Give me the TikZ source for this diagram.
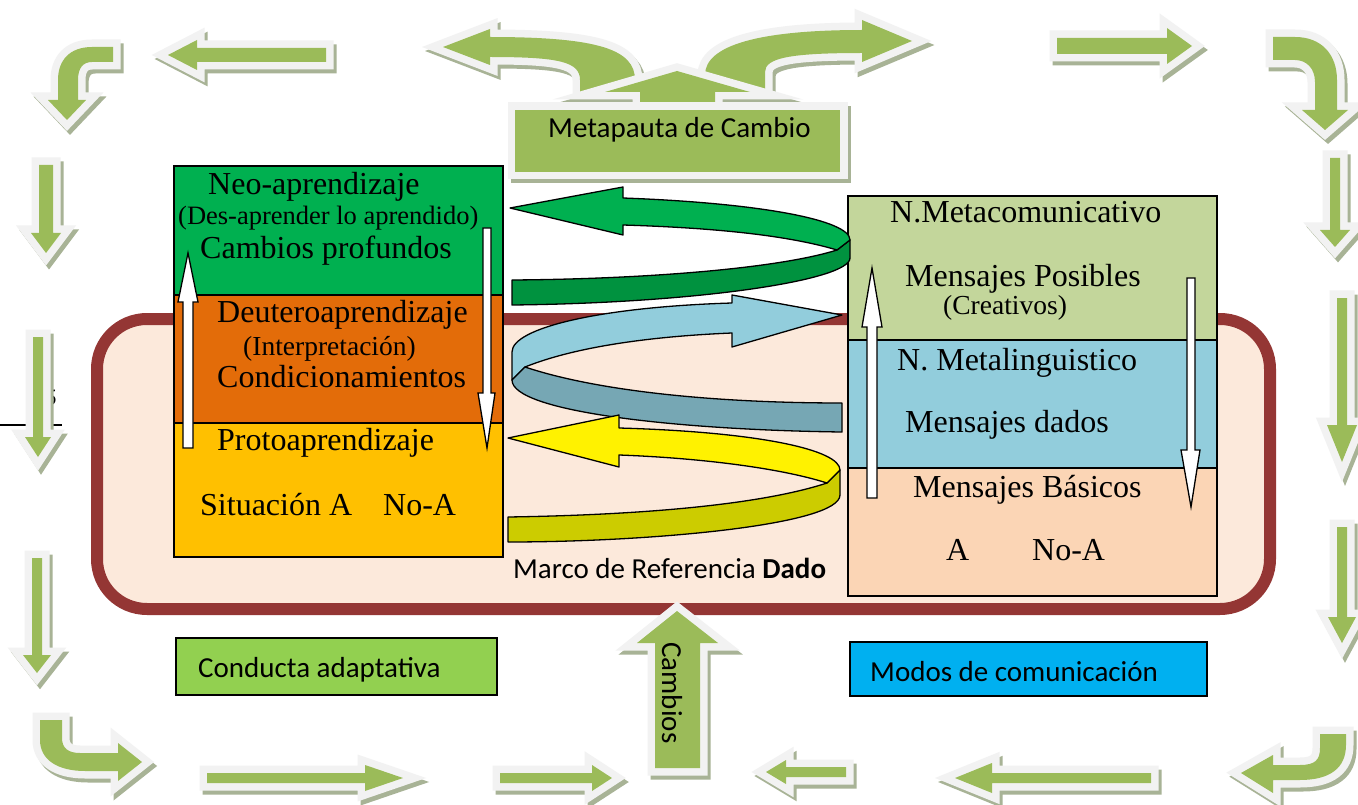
\documentclass[tikz,border=0pt]{standalone}
\usepackage{fontspec}
\setmainfont{Liberation Serif}
\newfontfamily\calibri{Carlito}
\definecolor{agreen}{HTML}{9BBB59}
\definecolor{awhite}{HTML}{F2F2F2}
\definecolor{ashadow}{HTML}{A8B396}
\definecolor{frameline}{HTML}{943634}
\definecolor{framefill}{HTML}{FCE9DB}
\definecolor{neogreen}{HTML}{00B050}
\definecolor{deutero}{HTML}{E36C09}
\definecolor{proto}{HTML}{FFC000}
\definecolor{metacom}{HTML}{C3D69B}
\definecolor{metaling}{HTML}{92CDDC}
\definecolor{basicos}{HTML}{FBD5B5}
\definecolor{gdark}{HTML}{00923F}
\definecolor{bdark}{HTML}{76A7B4}
\definecolor{ydark}{HTML}{CCCC00}
\definecolor{conducta}{HTML}{92D050}
\definecolor{modos}{HTML}{00B0F0}
\tikzset{
        barrow/.style={fill=agreen,
            preaction={fill=ashadow, draw=ashadow, line width=15pt, line join=miter, transform canvas={shift={(3pt,-4pt)}}},
            preaction={fill=awhite, draw=awhite, line width=15pt, line join=miter}},
        layer/.style={draw=black, line width=1.5pt},
        warrow/.style={fill=white, draw=black, line width=1.3pt},
        ribbon/.style={draw=black, line width=1.3pt, line join=round},
        rtext/.style={inner sep=0pt, anchor=base west, font=\fontsize{32}{36}\selectfont},
        rsmall/.style={rtext, font=\fontsize{27.5}{30}\selectfont},
        stext/.style={inner sep=0pt, anchor=base west, font={\calibri\fontsize{29}{34}\selectfont}},
}
\begin{document}
\begin{tikzpicture}[x=1pt, y=-1pt]
        \fill[white] (0,0) rectangle (1358,805);
        \useasboundingbox (0,0) rectangle (1358,805);

        \node[font={\calibri\fontsize{24}{28}\selectfont}, inner sep=0pt] (pagenum) at (51,398) {5};
        \draw[line width=1.3pt] (0,425) -- (62,425);

        \draw[draw=frameline, fill=framefill, line width=12pt, rounded corners=50pt] (97,319) rectangle (1270,609);

        \foreach \x/\t/\b/\p/\s/\h in {46/165/233/253/7/15, 38/337/437/457/5/13, 37/558/655/673/5/14, 1335/158/230/247/5/15, 1342/298/425/462/5/15, 1342/527/617/643/5/14}{
            \fill[barrow] (\x-\s,\t) -- (\x+\s,\t) -- (\x+\s,\b) -- (\x+\h,\b) -- (\x,\p) -- (\x-\h,\b) -- (\x-\s,\b) -- cycle;
        }
        \foreach \a/\b/\c/\y/\s/\h in {326/197/168/55/7/15, 1057/1167/1192/46/8/18, 207/365/403/778/5/13, 500/592/612/778/5/13, 846/786/766/772/5/12, 1151/992/955/778/5/15}{
            \fill[barrow] (\a,\y-\s) -- (\b,\y-\s) -- (\b,\y-\h) -- (\c,\y) -- (\b,\y+\h) -- (\b,\y+\s) -- (\a,\y+\s) -- cycle;
        }

        \fill[barrow] (113,47) -- (92,47) .. controls (70,47) and (58,60) .. (58,80) -- (58,100) -- (48,100) -- (67,120) -- (86,100) -- (78,100) -- (78,80) .. controls (78,68) and (83,62) .. (92,62) -- (113,62) -- cycle;
        \fill[barrow] (1273,37) -- (1295,37) .. controls (1322,37) and (1337,55) .. (1337,80) -- (1337,110) -- (1348,110) -- (1325,130) -- (1302,110) -- (1315,110) -- (1315,82) .. controls (1315,68) and (1306,60) .. (1295,60) -- (1273,60) -- cycle;
        \fill[barrow] (40,720) -- (62,720) -- (62,738) .. controls (62,748) and (68,753) .. (80,753) -- (118,753) -- (118,743) -- (142,762) -- (118,781) -- (118,771) -- (85,771) .. controls (58,771) and (40,760) .. (40,740) -- cycle;
        \fill[barrow] (1346,734) -- (1346,745) .. controls (1346,768) and (1330,780) .. (1300,780) -- (1273,780) -- (1273,793) -- (1241,773) -- (1273,755) -- (1273,765) -- (1300,765) .. controls (1315,765) and (1320,760) .. (1320,748) -- (1320,734) -- cycle;
        \fill[barrow] (655,768) -- (700,768) -- (700,643) -- (718,643) -- (677,611) -- (637,643) -- (655,643) -- cycle;
        \node[stext, anchor=center, rotate=-90] (cambios) at (672,693) {Cambios};

        \fill[barrow] (443,47) -- (490,29) -- (490,37) .. controls (600,37) and (635,50) .. (635,80) -- (635,98) -- (580,98) -- (580,80) .. controls (580,62) and (560,57) .. (490,57) -- (490,65) -- cycle;
        \fill[barrow] (705,98) -- (705,75) .. controls (705,45) and (760,30) .. (862,30) -- (862,20) -- (912,41) -- (862,62) -- (862,53) .. controls (790,53) and (765,58) .. (765,72) -- (765,98) -- cycle;
        \fill[barrow] (605,92) -- (677,71) -- (750,92) -- (715,92) -- (715,112) -- (640,112) -- (640,92) -- cycle;
        \fill[barrow] (515,110) rectangle (840,172);
        \node[stext] (metapauta) at (548,138) {Metapauta de Cambio};

        \draw[layer, fill=neogreen] (174,166) rectangle (503,295);
        \draw[layer, fill=deutero] (174,295) rectangle (503,423);
        \draw[layer, fill=proto] (174,423) rectangle (503,557);
        \draw[layer, fill=metacom] (848,196) rectangle (1217,340);
        \draw[layer, fill=metaling] (848,340) rectangle (1217,468);
        \draw[layer, fill=basicos] (848,468) rectangle (1217,596);

        \node[rtext] (neo) at (208,195) {Neo-aprendizaje};
        \node[rtext, font=\fontsize{26.5}{30}\selectfont] (desaprender) at (178,225) {(Des-aprender lo aprendido)};
        \node[rtext] (profundos) at (200,259) {Cambios profundos};
        \node[rtext] (deutero) at (217,323) {Deuteroaprendizaje};
        \node[rsmall] (interpret) at (243,355) {(Interpretación)};
        \node[rtext] (condic) at (217,387) {Condicionamientos};
        \node[rtext] (proto) at (217,450) {Protoaprendizaje};
        \node[rtext] (situacion) at (200,515) {Situación A};
        \node[rtext] (noasit) at (383,515) {No-A};
        \node[rtext] (metacom) at (890,223) {N.Metacomunicativo};
        \node[rtext] (posibles) at (905,287) {Mensajes Posibles};
        \node[rsmall] (creativos) at (943,314) {(Creativos)};
        \node[rtext] (metaling) at (897,370) {N. Metalinguistico};
        \node[rtext] (dados) at (905,432) {Mensajes dados};
        \node[rtext] (basicos) at (913,497) {Mensajes Básicos};
        \node[rtext] (abas) at (946,560) {A};
        \node[rtext] (noabas) at (1032,560) {No-A};

        \draw[warrow] (183,448) -- (193,448) -- (193,302) -- (198,302) -- (188,253) -- (178,302) -- (183,302) -- cycle;
        \draw[warrow] (483,228) -- (491,228) -- (491,393) -- (495,393) -- (487,448) -- (478,393) -- (483,393) -- cycle;
        \draw[warrow] (867,498) -- (877,498) -- (877,327) -- (882,327) -- (872,268) -- (862,327) -- (867,327) -- cycle;
        \draw[warrow] (1187,278) -- (1195,278) -- (1195,450) -- (1200,450) -- (1191,507) -- (1181,450) -- (1187,450) -- cycle;

        \draw[ribbon, fill=metaling] (732,303) .. controls (600,307) and (512,328) .. (512,352) -- (512,380) -- (525,367) .. controls (580,345) and (660,336) .. (732,333) -- (732,347) -- (842,315) -- (732,295) -- cycle;
        \draw[ribbon, fill=bdark] (525,367) .. controls (600,392) and (720,403) .. (842,403) -- (842,432) .. controls (680,430) and (512,412) .. (512,380) -- cycle;
        \draw[ribbon, fill=gdark] (512,280) .. controls (650,279) and (780,268) .. (837,250) -- (850,240) -- (850,258) .. controls (850,280) and (700,303) .. (512,305) -- cycle;
        \draw[ribbon, fill=neogreen] (623,198) .. controls (760,203) and (850,220) .. (850,240) -- (837,250) .. controls (790,236) and (720,228) .. (623,225) -- (623,235) -- (510,208) -- (623,187) -- cycle;
        \draw[ribbon, fill=ydark] (827,483) .. controls (760,505) and (640,515) .. (508,517) -- (508,542) .. controls (650,542) and (840,525) .. (840,495) -- (840,470) -- cycle;
        \draw[ribbon, fill=yellow] (619,428) .. controls (760,432) and (840,450) .. (840,470) -- (827,483) .. controls (780,468) and (700,458) .. (619,455) -- (619,467) -- (508,438) -- (619,415) -- cycle;

        \node[stext] (marco) at (513,578) {Marco de Referencia \textbf{Dado}};

        \draw[layer, fill=conducta] (176,638) rectangle (497,695);
        \node[stext] (conducta) at (198,677) {Conducta adaptativa};
        \draw[layer, fill=modos] (850,642) rectangle (1207,696);
        \node[stext] (modos) at (870,681) {Modos de comunicación};
    \end{tikzpicture}
\end{document}
